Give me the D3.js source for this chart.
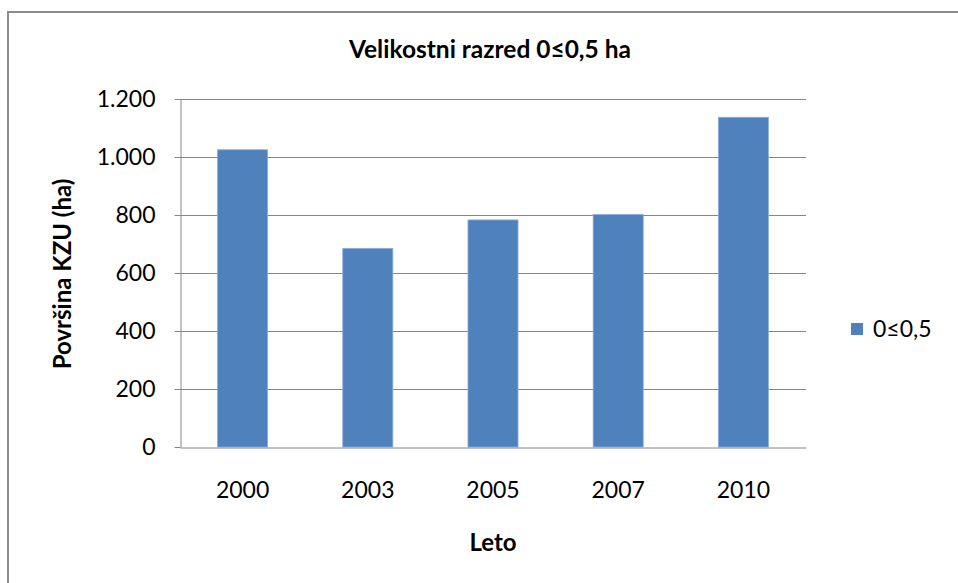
<!DOCTYPE html>
<html>
<head>
<meta charset="utf-8">
<script src="https://cdn.jsdelivr.net/npm/d3@7"></script>
<style>
  body { margin: 0; background: #fff; }
  svg { display: block; font-family: Lato, "Open Sans", sans-serif; }
</style>
</head>
<body>
<svg width="958" height="583"></svg>
<script>

// data
var years = ["2000", "2003", "2005", "2007", "2010"];
var values = [1025, 685, 783, 802, 1137];
var yTicks = [0, 200, 400, 600, 800, 1000, 1200];
var seriesName = "0≤0,5";

var svg = d3.select("svg"),
    width = +svg.attr("width"),
    height = +svg.attr("height");

var plot = {left: 180, right: 806, top: 99, bottom: 447};

// outer chart frame
svg.append("rect")
    .attr("x", 8).attr("y", 12)
    .attr("width", width).attr("height", height)
    .attr("fill", "none")
    .attr("stroke", "#8c8c8c")
    .attr("stroke-width", 2);

var x = d3.scaleBand()
    .domain(years)
    .range([plot.left, plot.right])
    .paddingInner(0.6)
    .paddingOuter(0.3);

var y = d3.scaleLinear()
    .domain([0, 1200])
    .range([plot.bottom, plot.top]);

var fmt = function(d) { return d3.format(",")(d).replace(/,/g, "."); };

// gridlines
svg.append("g")
  .selectAll("line")
  .data(yTicks.slice(1))
  .join("line")
    .attr("x1", plot.left).attr("x2", plot.right)
    .attr("y1", d => y(d) + 0.5).attr("y2", d => y(d) + 0.5)
    .attr("stroke", "#868686");

// bars
svg.append("g")
  .selectAll("rect")
  .data(values)
  .join("rect")
    .attr("x", (d, i) => x(years[i]))
    .attr("y", d => y(d))
    .attr("width", x.bandwidth())
    .attr("height", d => y(0) - y(d))
    .attr("fill", "#4f81bd")
    .attr("stroke", "#8eaedb")
    .attr("stroke-width", 0.8);

// y axis
var yAxis = svg.append("g")
    .attr("transform", "translate(" + (plot.left + 0.5) + ",0)")
    .call(d3.axisLeft(y).tickValues(yTicks).tickFormat(fmt).tickSizeInner(6).tickSizeOuter(0).tickPadding(19));
yAxis.select(".domain").attr("stroke", "#868686");
yAxis.selectAll(".tick line").attr("stroke", "#868686");
yAxis.selectAll("text")
    .attr("font-size", 23)
    .attr("fill", "#000")
    .attr("font-family", "Lato, sans-serif");

// x axis
var xAxis = svg.append("g")
    .attr("transform", "translate(0," + (plot.bottom + 0.5) + ")")
    .call(d3.axisBottom(x).tickSize(0).tickPadding(34));
xAxis.select(".domain").attr("stroke", "#868686");
xAxis.selectAll("text")
    .attr("font-size", 23)
    .attr("fill", "#000")
    .attr("font-family", "Lato, sans-serif");

// title
svg.append("text")
    .attr("x", 490).attr("y", 58)
    .attr("text-anchor", "middle")
    .attr("font-size", 24.5)
    .attr("font-weight", "bold")
    .text("Velikostni razred 0≤0,5 ha");

// axis titles
svg.append("text")
    .attr("x", 493).attr("y", 551)
    .attr("text-anchor", "middle")
    .attr("font-size", 24)
    .attr("font-weight", "bold")
    .text("Leto");

svg.append("text")
    .attr("transform", "translate(71,274) rotate(-90)")
    .attr("text-anchor", "middle")
    .attr("font-size", 24)
    .attr("font-weight", "bold")
    .text("Površina KZU (ha)");

// legend
var legend = svg.append("g").attr("transform", "translate(851,323)");
legend.append("rect")
    .attr("width", 12).attr("height", 12)
    .attr("fill", "#4f81bd");
legend.append("text")
    .attr("x", 22).attr("y", 14)
    .attr("font-size", 23)
    .text(seriesName);

</script>
</body>
</html>
